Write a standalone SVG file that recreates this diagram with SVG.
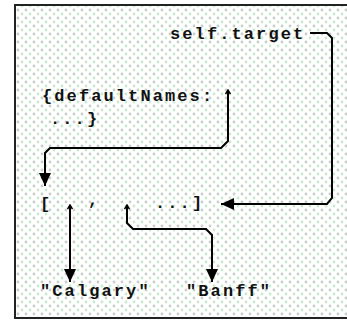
<svg xmlns="http://www.w3.org/2000/svg" width="347" height="322" viewBox="0 0 347 322">
<defs>
<pattern id="dots" width="8" height="8" patternUnits="userSpaceOnUse">
<rect width="8" height="8" fill="#ffffff"/>
<circle cx="2" cy="2" r="1.4" fill="#c8cfcb"/>
<circle cx="6" cy="6" r="1.4" fill="#c6ecd0"/>
</pattern>
<marker id="ah" viewBox="0 0 14 14" refX="13" refY="7" markerWidth="14" markerHeight="14" markerUnits="userSpaceOnUse" orient="auto">
<path d="M0,1 L13,7 L0,13 Z" fill="#000"/>
</marker>
<marker id="st" viewBox="0 0 6 6" refX="1" refY="3" markerWidth="6" markerHeight="6" markerUnits="userSpaceOnUse" orient="auto">
<path d="M5,0.5 L1,3 L5,5.5" fill="none" stroke="#000" stroke-width="1.5"/>
</marker>
<style>
.t{font-family:"Liberation Mono",monospace;font-weight:bold;font-size:17px;fill:#111;letter-spacing:2.1px}
.c{fill:none;stroke:#000;stroke-width:2}
</style>
</defs>
<rect x="0" y="0" width="347" height="322" fill="#fff"/>
<rect x="15" y="5" width="340" height="313" fill="url(#dots)" stroke="#222" stroke-width="2"/>
<g id="self-target"><text class="t" x="170" y="39">self.target</text></g>
<g id="defaultNames"><text class="t" x="42" y="101">{defaultNames:</text><text class="t" x="50" y="124">...}</text></g>
<g id="list"><text class="t" x="40" y="209">[</text><text class="t" x="88" y="205">,</text><text class="t" x="155" y="208">...]</text></g>
<g id="calgary"><text class="t" x="40" y="296">"Calgary"</text></g>
<g id="banff"><text class="t" x="186" y="296">"Banff"</text></g>
<g id="connectors">
<path class="c" d="M310,33 L327,33 L332,38 L332,198 L327,204 L221,204" marker-end="url(#ah)"/>
<path class="c" d="M228,90 L228,141 L221,148 L50,148 L45,153 L45,186" marker-start="url(#st)" marker-end="url(#ah)"/>
<path class="c" d="M70,205 L70,282" marker-start="url(#st)" marker-end="url(#ah)"/>
<path class="c" d="M127,205 L127,223 L133,229 L206,229 L212,235 L212,282" marker-start="url(#st)" marker-end="url(#ah)"/>
</g>
</svg>
